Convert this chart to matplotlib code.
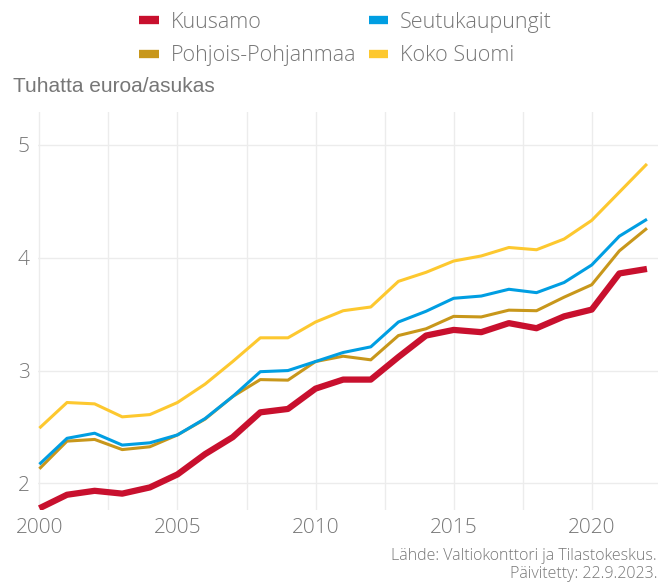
import matplotlib
matplotlib.use('Agg')
import matplotlib.pyplot as plt
from matplotlib.lines import Line2D

years = list(range(2000, 2023))

kuusamo = [1.78, 1.90, 1.935, 1.91, 1.965, 2.08, 2.26, 2.41, 2.63, 2.66, 2.84,
           2.92, 2.92, 3.12, 3.31, 3.36, 3.34, 3.42, 3.375, 3.48, 3.54, 3.86, 3.90]
seutukaupungit = [2.17, 2.40, 2.445, 2.34, 2.36, 2.43, 2.575, 2.77, 2.99, 3.00, 3.08,
                  3.16, 3.21, 3.43, 3.525, 3.64, 3.66, 3.72, 3.69, 3.78, 3.935, 4.19, 4.34]
pohjois_pohjanmaa = [2.13, 2.375, 2.39, 2.30, 2.325, 2.43, 2.57, 2.77, 2.92, 2.915, 3.08,
                     3.127, 3.095, 3.31, 3.37, 3.48, 3.475, 3.535, 3.53, 3.65, 3.76, 4.06, 4.26]
koko_suomi = [2.49, 2.717, 2.705, 2.59, 2.61, 2.717, 2.88, 3.08, 3.29, 3.29, 3.43,
              3.53, 3.563, 3.79, 3.87, 3.97, 4.015, 4.09, 4.07, 4.165, 4.33, 4.58, 4.83]

# legend reads row-wise: Kuusamo, Seutukaupungit / Pohjois-Pohjanmaa, Koko Suomi
legend_order = ['Kuusamo', 'Pohjois-Pohjanmaa', 'Seutukaupungit', 'Koko Suomi']
colors = {'Kuusamo': '#c8102e', 'Seutukaupungit': '#009ee2',
          'Pohjois-Pohjanmaa': '#c8971b', 'Koko Suomi': '#fdc82f'}

GREY = '#777777'
TICKFONT = ['Open Sans', 'DejaVu Sans']

fig = plt.figure(figsize=(6.7, 5.83), dpi=100)
ax = fig.add_axes([38/670, 1 - 510/583, 620/670, 398/583])

# draw order: yellow, gold, blue, red on top
ax.plot(years, koko_suomi, color=colors['Koko Suomi'], lw=2.2, solid_capstyle='butt', zorder=3)
ax.plot(years, pohjois_pohjanmaa, color=colors['Pohjois-Pohjanmaa'], lw=2.2, solid_capstyle='butt', zorder=4)
ax.plot(years, seutukaupungit, color=colors['Seutukaupungit'], lw=2.2, solid_capstyle='butt', zorder=5)
ax.plot(years, kuusamo, color=colors['Kuusamo'], lw=4.5, solid_capstyle='butt', zorder=6)

ax.set_xlim(1999.95, 2022.4)
ax.set_ylim(1.765, 5.29)
ax.set_xticks([2000, 2005, 2010, 2015, 2020])
ax.set_xticks([2002.5, 2007.5, 2012.5, 2017.5], minor=True)
ax.set_yticks([2, 3, 4, 5])
ax.grid(True, which='both', color='#ececec', lw=1.0, zorder=0)
ax.tick_params(which='both', length=0, colors=GREY, labelsize=15, pad=6)
for lab in ax.get_xticklabels() + ax.get_yticklabels():
    lab.set_family(TICKFONT)
    lab.set_fontweight('light')
for s in ax.spines.values():
    s.set_visible(False)

fig.text(13/670, 1 - 86/583, 'Tuhatta euroa/asukas', fontsize=15, color=GREY,
         family=['Liberation Sans', 'DejaVu Sans'], va='center', ha='left')

handles = [Line2D([0], [0], color=colors[l], lw=6, solid_capstyle='butt') for l in legend_order]
leg = fig.legend(handles, legend_order, loc='center', bbox_to_anchor=(0.516, 1 - 39/583), ncol=2,
                 frameon=False, handlelength=0.9, columnspacing=0.6, handletextpad=0.55,
                 labelspacing=0.6, prop={'family': TICKFONT, 'size': 15.5, 'weight': 'light'})
for t in leg.get_texts():
    t.set_color(GREY)

fig.text(657/670, 1 - 556/583, 'Lähde: Valtiokonttori ja Tilastokeskus.', fontsize=11.5,
         color=GREY, family=TICKFONT, ha='right', va='center', fontweight='light')
fig.text(657/670, 1 - 574/583, 'Päivitetty: 22.9.2023.', fontsize=11.5,
         color=GREY, family=TICKFONT, ha='right', va='center', fontweight='light')

fig.savefig('out.png', dpi=100)
